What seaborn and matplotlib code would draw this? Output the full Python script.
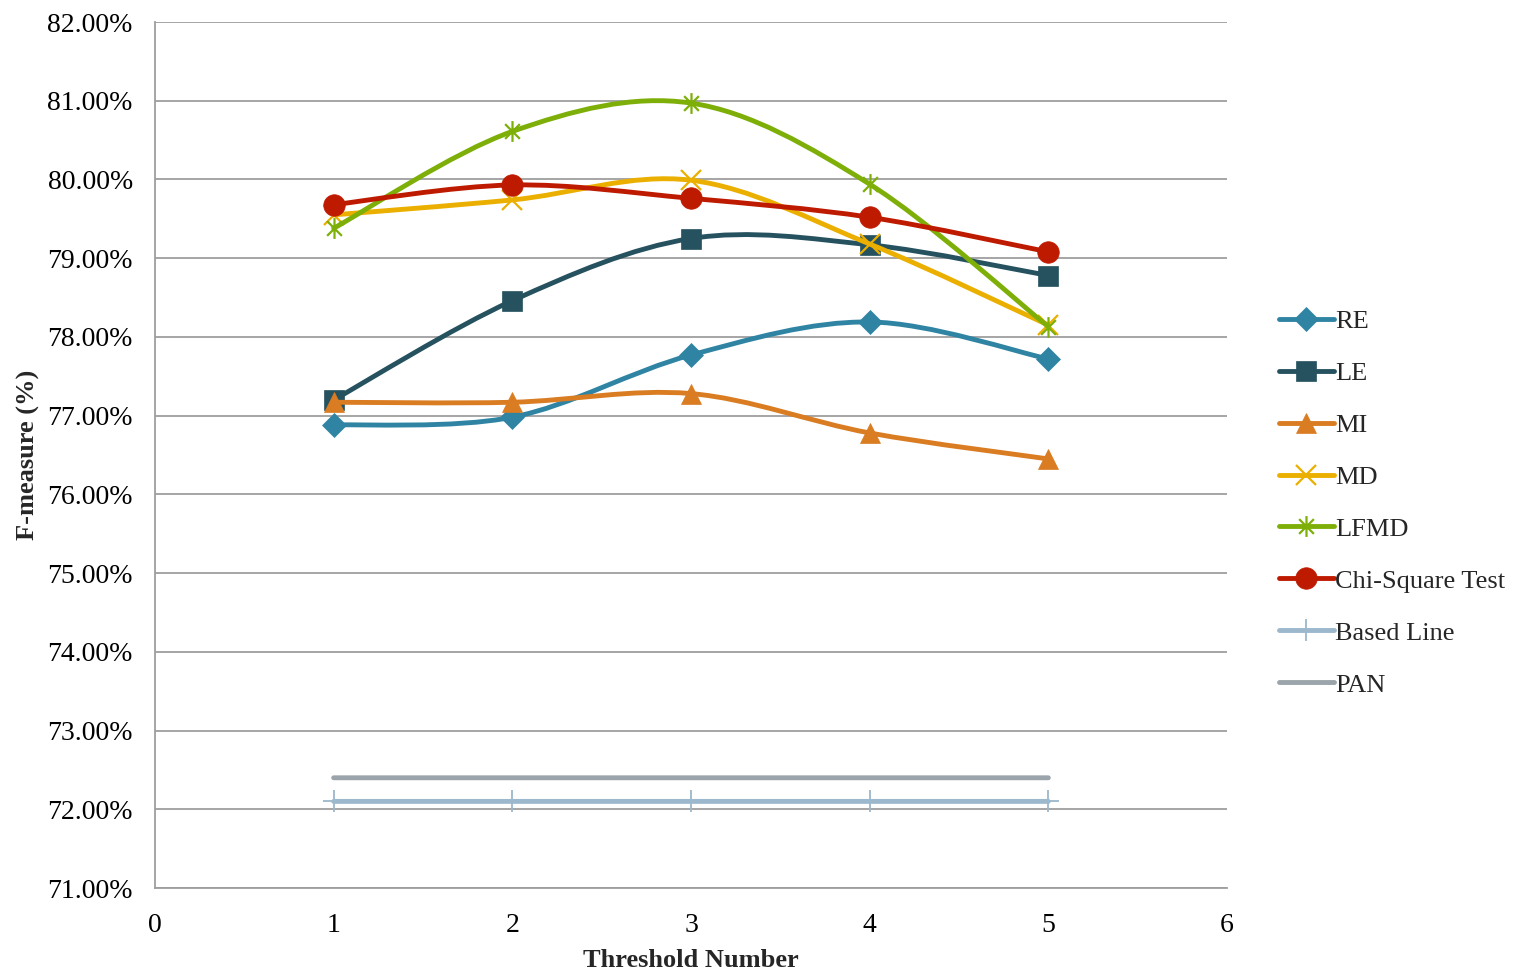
import numpy as np
import pandas as pd
import seaborn as sns
import matplotlib
matplotlib.use("Agg")
import matplotlib.pyplot as plt
from matplotlib.path import Path
from matplotlib.patches import PathPatch
from matplotlib.lines import Line2D
from matplotlib.ticker import FuncFormatter, FixedLocator

# ---------------- data ----------------
thresholds = [1, 2, 3, 4, 5]
re_vals = [76.88, 76.98, 77.77, 78.19, 77.72]
le_vals = [77.20, 78.46, 79.25, 79.17, 78.78]
mi_vals = [77.17, 77.17, 77.28, 76.78, 76.45]
md_vals = [79.55, 79.74, 79.99, 79.18, 78.15]
lfmd_vals = [79.38, 80.61, 80.97, 79.94, 78.13]
chi_vals = [79.68, 79.93, 79.76, 79.52, 79.08]
based_vals = [72.1, 72.1, 72.1, 72.1, 72.1]
pan_vals = [72.4, 72.4, 72.4, 72.4, 72.4]

series_names = ["RE", "LE", "MI", "MD", "LFMD", "Chi-Square Test", "Based Line", "PAN"]
series_values = [re_vals, le_vals, mi_vals, md_vals, lfmd_vals, chi_vals, based_vals, pan_vals]
y_ticks = [71, 72, 73, 74, 75, 76, 77, 78, 79, 80, 81, 82]
x_ticks = [0, 1, 2, 3, 4, 5, 6]

# ---------------- style ----------------
sns.set_style("white")
plt.rcParams["font.family"] = ["Liberation Serif", "DejaVu Serif"]

colors = ["#2F84A3", "#26525F", "#D97C22", "#EBAF00", "#7DAF08", "#BE1A00", "#9BB8CC", "#9AA4AA"]

# asterisk marker (vertical + X)
d = 0.7071
ast = Path(
    [(0, -1), (0, 1), (-d, -d), (d, d), (-d, d), (d, -d)],
    [Path.MOVETO, Path.LINETO, Path.MOVETO, Path.LINETO, Path.MOVETO, Path.LINETO],
)
markers = ["D", "s", "^", "x", ast, "o", "+", None]
msizes = [12, 15, 15, 14, 15, 15.5, 16, 0]
mews = [0.5, 0.5, 0.5, 1.6, 1.6, 0.5, 1.3, 0]

df = pd.DataFrame(
    {
        "x": np.tile(thresholds, len(series_names)),
        "y": np.concatenate(series_values),
        "series": np.repeat(series_names, len(thresholds)),
    }
)

fig = plt.figure(figsize=(15.24, 9.76), dpi=100)
ax = fig.add_axes([155 / 1524, 1 - 888 / 976, (1227 - 155) / 1524, (888 - 22) / 976])

LW = 3.5


def smooth_path(xs, ys):
    pts = np.column_stack([xs, ys]).astype(float)
    n = len(pts)
    verts = [pts[0]]
    codes = [Path.MOVETO]
    for i in range(n - 1):
        p0 = pts[max(i - 1, 0)]
        p1 = pts[i]
        p2 = pts[i + 1]
        p3 = pts[min(i + 2, n - 1)]
        c1 = p1 + (p2 - p0) / 6.0
        c2 = p2 - (p3 - p1) / 6.0
        verts += [c1, c2, p2]
        codes += [Path.CURVE4] * 3
    return Path(verts, codes)


handles = []
for k, name in enumerate(series_names):
    sub = df[df["series"] == name]
    col = colors[k]
    z = 3 + k
    patch = PathPatch(
        smooth_path(sub["x"].values, sub["y"].values),
        facecolor="none",
        edgecolor=col,
        lw=LW,
        capstyle="round",
        joinstyle="round",
        transform=ax.transData,
        zorder=z,
    )
    ax.add_patch(patch)
    if markers[k] is not None:
        sns.lineplot(
            data=sub,
            x="x",
            y="y",
            ax=ax,
            color=col,
            linewidth=0,
            marker=markers[k],
            markersize=msizes[k],
            markeredgewidth=mews[k],
            markeredgecolor=col,
            markerfacecolor=col,
            legend=False,
            zorder=z + 0.5,
        )
    handles.append(
        Line2D(
            [0],
            [0],
            color=col,
            lw=LW,
            solid_capstyle="round",
            marker=markers[k] if markers[k] is not None else "None",
            markersize=msizes[k],
            markeredgewidth=mews[k],
            markerfacecolor=col,
            markeredgecolor=col,
        )
    )

ax.set_xlim(0, 6)
ax.set_ylim(71, 82)
ax.xaxis.set_major_locator(FixedLocator(x_ticks))
ax.yaxis.set_major_locator(FixedLocator(y_ticks))
ax.yaxis.set_major_formatter(FuncFormatter(lambda v, p: f"{v:.2f}%"))
ax.xaxis.set_major_formatter(FuncFormatter(lambda v, p: f"{int(v)}"))

ax.grid(axis="y", color="#9E9E9E", lw=1.3)
ax.grid(axis="x", visible=False)
ax.set_axisbelow(True)
for s in ["top", "right"]:
    ax.spines[s].set_visible(False)
for s in ["left", "bottom"]:
    ax.spines[s].set_color("#9E9E9E")
    ax.spines[s].set_linewidth(1.3)

ax.tick_params(axis="both", length=0, labelsize=20, colors="black")
ax.tick_params(axis="y", pad=16)
ax.tick_params(axis="x", pad=18)

ax.set_xlabel("Threshold Number", fontsize=19, fontweight="bold", labelpad=8)
ax.set_ylabel("F-measure (%)", fontsize=19, fontweight="bold", labelpad=5)

fig.legend(
    handles,
    series_names,
    loc="center left",
    bbox_to_anchor=(1268 / 1524, 1 - 503 / 976),
    frameon=False,
    fontsize=19,
    handlelength=2.1,
    handletextpad=0.05,
    labelspacing=1.08,
    borderaxespad=0,
)

fig.savefig("out.png", dpi=100, facecolor="white")
